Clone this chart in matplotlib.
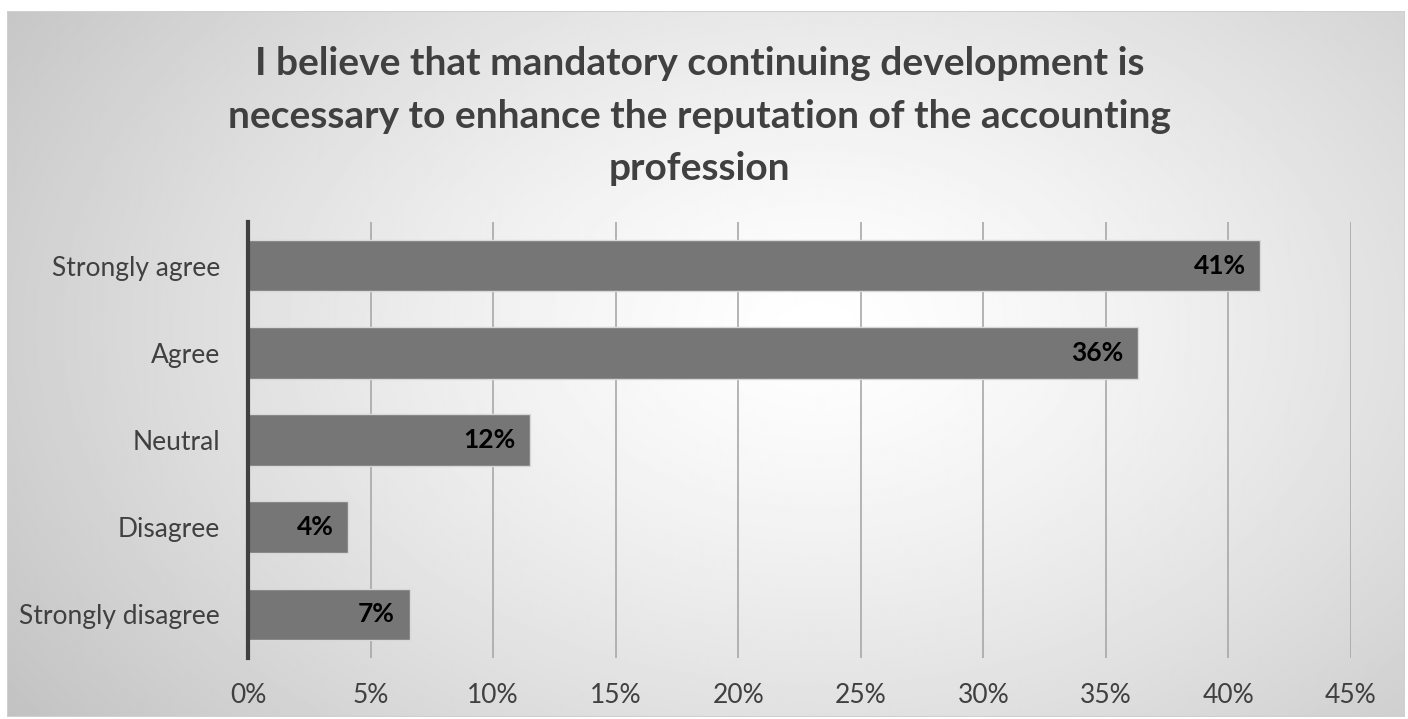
import numpy as np
import matplotlib
matplotlib.use("Agg")
import matplotlib.pyplot as plt

categories = ["Strongly agree", "Agree", "Neutral", "Disagree", "Strongly disagree"]
values = [41.3, 36.3, 11.5, 4.1, 6.6]
xticks = [0, 5, 10, 15, 20, 25, 30, 35, 40, 45]
title = ("I believe that mandatory continuing development is\n"
         "necessary to enhance the reputation of the accounting\n"
         "profession")

plt.rcParams["font.family"] = ["Lato", "DejaVu Sans"]

W, H = 1408, 719
fig = plt.figure(figsize=(W / 100, H / 100), dpi=100)
fig.patch.set_facecolor("white")

# radial gradient backdrop inside a light frame
bg = fig.add_axes([7 / W, 2 / H, 1398 / W, 706 / H])
bg.set_axis_off()
nx, ny = 700, 353
gx = np.linspace(0, 1, nx)
gy = np.linspace(0, 1, ny)
X, Y = np.meshgrid(gx, gy)
cx, cy = 0.58, 0.45
r = np.sqrt(((X - cx) * 1.0) ** 2 + ((Y - cy) * 0.75) ** 2)
r = r / r.max()
shade = 1.0 - 0.24 * np.clip(r, 0, 1) ** 1.3
bg.imshow(shade, cmap="gray", vmin=0, vmax=1, aspect="auto",
          extent=[0, 1, 0, 1], origin="upper", interpolation="bilinear")
bg.set_xlim(0, 1)
bg.set_ylim(0, 1)
frame = plt.Rectangle((0, 0), 1, 1, transform=bg.transAxes, fill=False,
                      edgecolor="#d0d0d0", linewidth=1.5)
bg.add_patch(frame)

fig.text(0.497, 1 - 116 / H, title, ha="center", va="center",
         fontsize=28, fontweight="bold", color="#404040", linespacing=1.61)

ax = fig.add_axes([248 / W, 1 - 658 / H, (1351 - 248) / W, (658 - 222) / H])
ax.patch.set_alpha(0)
y = np.arange(len(categories))
ax.barh(y, values, height=0.59, color="#767676", edgecolor="#d8d8d8",
        linewidth=1.0, zorder=3)
for yi, v in zip(y, values):
    ax.text(v - 0.6, yi, f"{v:.0f}%", ha="right", va="center",
            fontsize=19, fontweight="bold", color="black", zorder=4)

ax.set_xlim(0, 45)
ax.set_ylim(len(categories) - 0.5, -0.5)
ax.set_xticks(xticks)
ax.set_xticklabels([f"{t}%" for t in xticks], fontsize=19, color="#404040")
ax.set_yticks(y)
ax.set_yticklabels(categories, fontsize=19, color="#404040")
ax.tick_params(axis="both", length=0)
ax.tick_params(axis="x", pad=18)
ax.tick_params(axis="y", pad=20)
ax.xaxis.grid(True, color="#a8a8a8", linewidth=1.2, zorder=0)
ax.set_axisbelow(True)
for s in ["top", "right", "bottom"]:
    ax.spines[s].set_visible(False)
ax.spines["left"].set_color("#404040")
ax.spines["left"].set_linewidth(3)
ax.spines["left"].set_zorder(5)

fig.savefig("out.png", dpi=100)
